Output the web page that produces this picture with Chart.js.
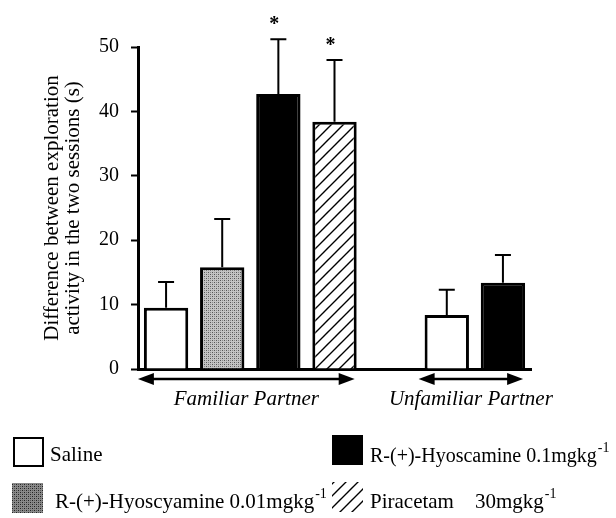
<!DOCTYPE html>
<html>
<head>
<meta charset="utf-8">
<script src="https://cdn.jsdelivr.net/npm/chart.js@4"></script>
<style>
html,body{margin:0;padding:0;background:#fff;}
#wrap{width:616px;height:518px;position:relative;}
</style>
</head>
<body>
<div id="wrap"><canvas id="chart" width="616" height="518"></canvas></div>
<script>
// bar slots: 4 familiar-partner groups, an empty slot, 2 unfamiliar-partner groups
const categories = ['Saline', 'Hyoscyamine 0.01', 'Hyoscamine 0.1', 'Piracetam 30', '', 'Saline', 'Hyoscamine 0.1'];
const means = [9.5, 15.8, 42.7, 38.4, null, 8.4, 13.4];
const errors = [4.0, 7.5, 8.5, 9.6, null, 3.9, 4.3];
const stars = ['', '', '*', '*', '', '', ''];
const fills = ['white', 'dots', 'black', 'hatch', 'white', 'white', 'black'];
const yTicks = [0, 10, 20, 30, 40, 50];
const partners = ['Familiar Partner', 'Unfamiliar Partner'];
const partnerSlots = [[0, 3], [5, 6]];
const legendItems = [
  {fill: 'white', text: 'Saline', sup: '', size: 21},
  {fill: 'black', text: 'R-(+)-Hyoscamine 0.1mgkg', sup: '-1', size: 20},
  {fill: 'darkdots', text: 'R-(+)-Hyoscyamine 0.01mgkg', sup: '-1', size: 21},
  {fill: 'hatch', text: 'Piracetam    30mgkg', sup: '-1', size: 21}
];

const SERIF = '"Liberation Serif", "DejaVu Serif", serif';

function makeDots(base, dark, mid) {
  const c = document.createElement('canvas');
  c.width = 4; c.height = 4;
  const x = c.getContext('2d');
  x.fillStyle = base;
  x.fillRect(0, 0, 4, 4);
  x.fillStyle = dark;
  x.fillRect(0, 0, 1, 1);
  x.fillRect(2, 2, 1, 1);
  x.fillStyle = mid;
  x.fillRect(2, 0, 1, 1);
  x.fillRect(0, 2, 1, 1);
  return x.createPattern(c, 'repeat');
}

function makeHatch() {
  const s = 12;
  const c = document.createElement('canvas');
  c.width = s; c.height = s;
  const x = c.getContext('2d');
  x.fillStyle = '#fff';
  x.fillRect(0, 0, s, s);
  x.strokeStyle = '#000';
  x.lineWidth = 1.4;
  x.beginPath();
  x.moveTo(-2, s + 2); x.lineTo(s + 2, -2);
  x.moveTo(-2, 2); x.lineTo(2, -2);
  x.moveTo(s - 2, s + 2); x.lineTo(s + 2, s - 2);
  x.stroke();
  return x.createPattern(c, 'repeat');
}

const dotPattern = makeDots('#c4c4c4', '#555', '#8a8a8a');
const darkDotPattern = makeDots('#8a8a8a', '#222', '#555');
const hatchPattern = makeHatch();
function paint(f) {
  if (f === 'dots') return dotPattern;
  if (f === 'darkdots') return darkDotPattern;
  if (f === 'hatch') return hatchPattern;
  return f === 'black' ? '#000' : '#fff';
}

function arrow(ctx, x1, x2, y) {
  ctx.strokeStyle = '#000';
  ctx.fillStyle = '#000';
  ctx.lineWidth = 2.5;
  ctx.beginPath();
  ctx.moveTo(x1 + 10, y); ctx.lineTo(x2 - 10, y);
  ctx.stroke();
  ctx.beginPath();
  ctx.moveTo(x1, y); ctx.lineTo(x1 + 16, y - 6); ctx.lineTo(x1 + 16, y + 6); ctx.closePath();
  ctx.fill();
  ctx.beginPath();
  ctx.moveTo(x2, y); ctx.lineTo(x2 - 16, y - 6); ctx.lineTo(x2 - 16, y + 6); ctx.closePath();
  ctx.fill();
}

const extras = {
  id: 'extras',
  afterDatasetsDraw(chart) {
    const ctx = chart.ctx;
    const y = chart.scales.y;
    const meta = chart.getDatasetMeta(0);
    ctx.save();
    // error bars (upper only) and asterisks
    meta.data.forEach((bar, i) => {
      if (means[i] == null) return;
      const top = y.getPixelForValue(means[i] + errors[i]);
      ctx.strokeStyle = '#000';
      ctx.lineWidth = 2;
      ctx.beginPath();
      ctx.moveTo(bar.x, bar.y);
      ctx.lineTo(bar.x, top);
      ctx.moveTo(bar.x - 8, top);
      ctx.lineTo(bar.x + 8, top);
      ctx.stroke();
      if (stars[i]) {
        ctx.fillStyle = '#000';
        ctx.font = 'bold 20px ' + SERIF;
        ctx.textAlign = 'center';
        ctx.textBaseline = 'alphabetic';
        ctx.fillText(stars[i], bar.x - 4, top - 9);
      }
    });
    // group arrows and labels
    const half = meta.data[0].width / 2;
    partnerSlots.forEach((s, k) => {
      const x1 = meta.data[s[0]].x - half - 6;
      const x2 = meta.data[s[1]].x + half - 2;
      arrow(ctx, x1, x2, y.bottom + 10);
      ctx.fillStyle = '#000';
      ctx.font = 'italic 21px ' + SERIF;
      ctx.textAlign = 'center';
      ctx.textBaseline = 'alphabetic';
      ctx.fillText(partners[k], (x1 + x2) / 2, y.bottom + 36);
    });
    // legend: box x, box y, text x, baseline
    const pos = [[13, 437, 50, 461], [332, 435, 370, 462], [12, 483, 55, 508], [332, 482, 370, 508]];
    legendItems.forEach((it, k) => {
      const p = pos[k];
      ctx.fillStyle = paint(it.fill);
      ctx.fillRect(p[0], p[1], 31, 30);
      if (it.fill === 'white') {
        ctx.strokeStyle = '#000';
        ctx.lineWidth = 2;
        ctx.strokeRect(p[0] + 1, p[1] + 1, 29, 28);
      }
      ctx.fillStyle = '#000';
      ctx.font = it.size + 'px ' + SERIF;
      ctx.textAlign = 'left';
      ctx.textBaseline = 'alphabetic';
      ctx.fillText(it.text, p[2], p[3]);
      if (it.sup) {
        const w = ctx.measureText(it.text).width;
        ctx.font = '14px ' + SERIF;
        ctx.fillText(it.sup, p[2] + w + 1, p[3] - 10);
      }
    });
    ctx.restore();
  }
};

new Chart(document.getElementById('chart'), {
  type: 'bar',
  data: {
    labels: categories,
    datasets: [{
      data: means,
      backgroundColor: fills.map(paint),
      borderColor: '#000',
      borderWidth: 3,
      barPercentage: 0.79,
      categoryPercentage: 1
    }]
  },
  options: {
    responsive: false,
    animation: false,
    layout: {padding: {left: 0, right: 85, top: 47, bottom: 149}},
    plugins: {legend: {display: false}, tooltip: {enabled: false}},
    scales: {
      x: {
        grid: {display: false},
        border: {color: '#000', width: 3},
        ticks: {display: false},
        afterFit(scale) { scale.height = 0; }
      },
      y: {
        min: 0,
        max: 50,
        afterBuildTicks(scale) { scale.ticks = yTicks.map(v => ({value: v})); },
        afterFit(scale) { scale.width = 138; },
        grid: {display: true, drawOnChartArea: false, drawTicks: true, tickLength: 7, tickWidth: 2, tickColor: '#000'},
        border: {color: '#000', width: 3},
        ticks: {color: '#000', padding: 12, font: {family: SERIF, size: 20}},
        title: {
          display: true,
          text: ['Difference between exploration', 'activity in the two sessions (s)'],
          color: '#000',
          font: {family: SERIF, size: 21, lineHeight: 1},
          padding: {top: 42, bottom: 0}
        }
      }
    }
  },
  plugins: [extras]
});
</script>
</body>
</html>
